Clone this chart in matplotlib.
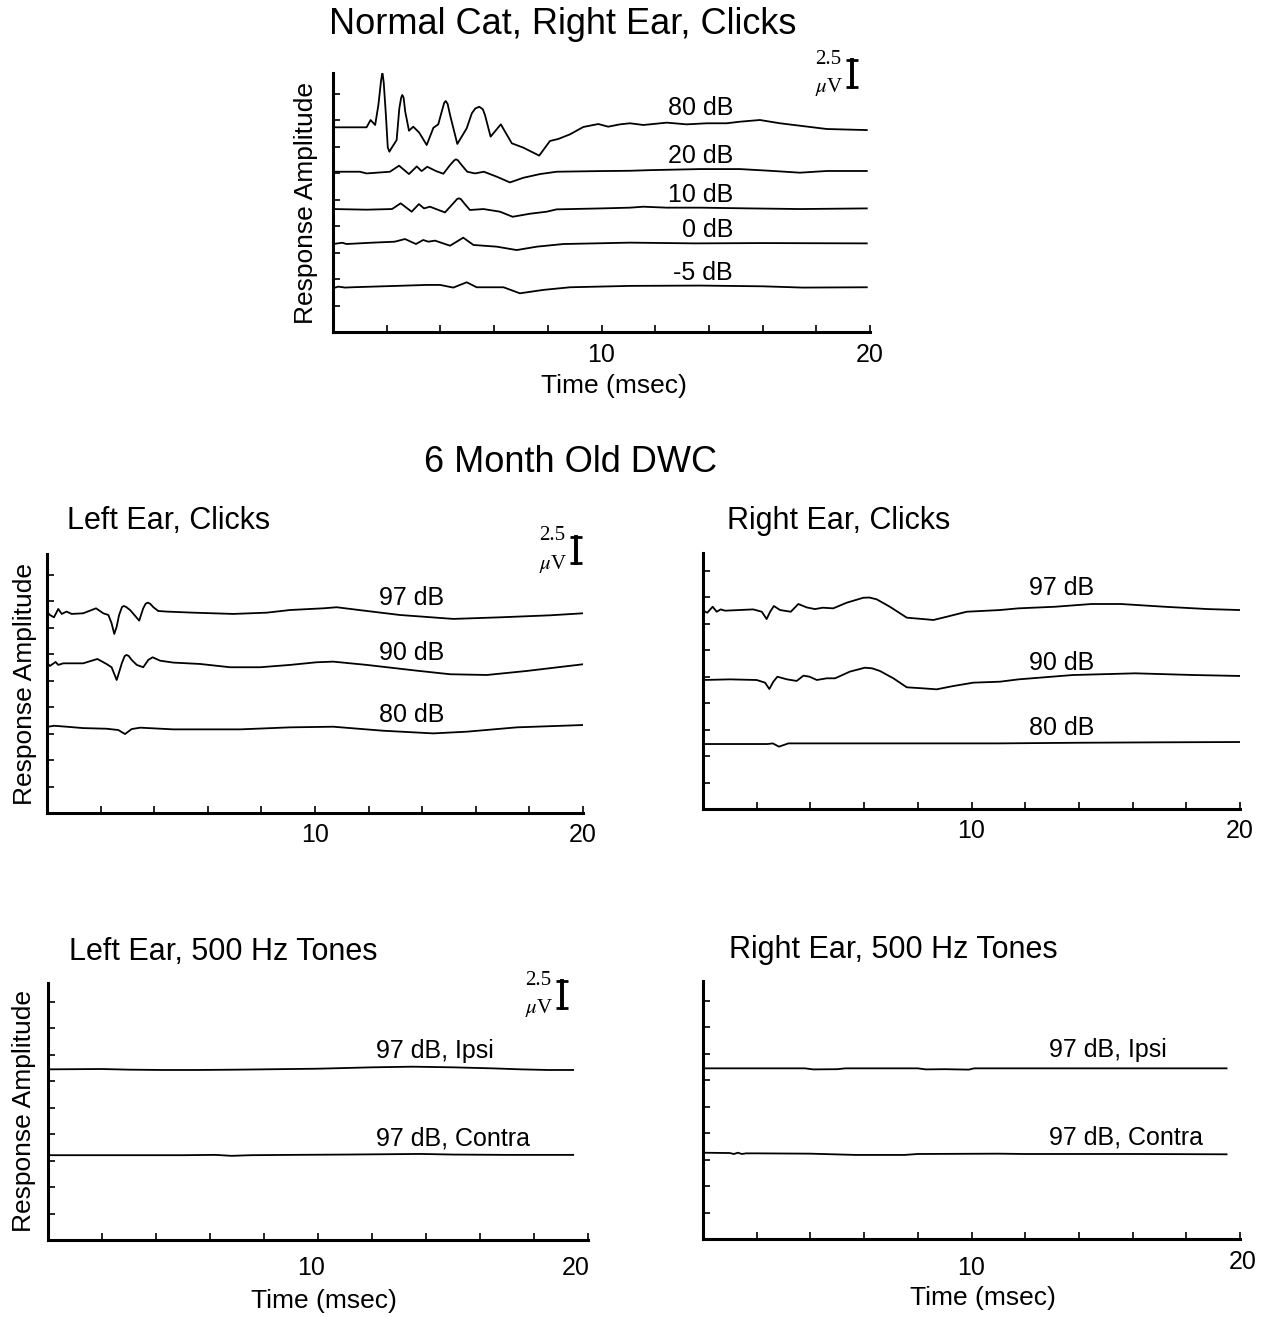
import numpy as np
import matplotlib.pyplot as plt

plt.rcParams['font.family'] = ['Liberation Sans', 'DejaVu Sans']
plt.rcParams['mathtext.fontset'] = 'stix'

# --- Normal cat, right ear, clicks (time in msec, amplitude in uV re. trace baseline)
top_t_80 = [0.0, 1.25, 1.40, 1.57, 1.69, 1.79, 1.84, 1.89, 1.97, 2.04, 2.10, 2.17, 2.37, 2.47, 2.54,
            2.58, 2.63, 2.69, 2.83, 2.99, 3.21, 3.49, 3.74, 3.92, 4.05, 4.14, 4.20, 4.27, 4.36, 4.63,
            4.98, 5.17, 5.30, 5.45, 5.58, 5.66, 5.87, 6.25, 6.66, 7.09, 7.68, 8.08, 8.39, 8.83, 9.32,
            9.88, 10.25, 10.69, 11.06, 11.56, 12.43, 13.17, 13.92, 14.66, 15.16, 15.90, 16.65,
            17.39, 18.39, 19.88]
top_v_80 = [0.0, 0.0, 0.69, 0.22, 2.1, 4.4, 5.2, 4.2, 1.16, -1.9, -2.3, -2.0, -1.2, 1.79, 2.8,
            3.05, 2.8, 1.48, -0.32, 0.06, -0.5, -1.67, -0.04, 0.28, 1.48, 2.3, 2.48, 2.2, 1.16, -1.57,
            -0.09, 1.32, 1.78, 1.94, 1.7, 1.16, -0.88, 0.28, -1.51, -1.92, -2.67, -1.29, -1.1, -0.66,
            0.03, 0.31, 0.06, 0.28, 0.38, 0.22, 0.44, 0.28, 0.38, 0.38, 0.53, 0.69, 0.38, 0.15,
            -0.16, -0.26]
top_t_20 = [0.0, 1.0, 1.25, 2.12, 2.46, 2.83, 3.12, 3.30, 3.51, 3.84, 4.11, 4.36, 4.52, 4.58, 4.65,
            4.79, 5.00, 5.29, 5.62, 6.10, 6.59, 7.09, 7.71, 8.33, 9.90, 11.06, 11.81, 13.67, 15.16,
            16.40, 17.39, 18.39, 19.88]
top_v_20 = [0.0, 0.0, -0.16, 0.0, 0.57, -0.22, 0.50, 0.06, 0.47, 0.06, -0.19, 0.63, 1.08, 1.17, 1.08,
            0.63, 0.0, -0.16, 0.0, -0.47, -1.01, -0.57, -0.22, 0.0, 0.06, 0.09, 0.15, 0.25, 0.25,
            0.07, -0.09, 0.07, 0.07]
top_t_10 = [0.0, 1.25, 2.20, 2.52, 2.93, 3.20, 3.39, 3.61, 4.17, 4.48, 4.62, 4.69, 4.76, 4.92, 5.10,
            5.60, 6.22, 6.69, 7.34, 7.96, 8.33, 10.0, 11.06, 11.56, 12.43, 13.67, 15.53, 17.4, 19.88]
top_v_10 = [0.0, -0.06, 0.0, 0.54, -0.25, 0.47, 0.06, 0.22, -0.32, 0.54, 0.94, 1.01, 0.94, 0.44,
            -0.09, 0.0, -0.25, -0.73, -0.44, -0.25, -0.03, 0.06, 0.13, 0.22, 0.13, 0.13, 0.06, 0.0,
            0.06]
top_t_0 = [0.0, 0.35, 0.5, 1.4, 2.3, 2.68, 3.09, 3.36, 3.55, 3.80, 4.36, 4.85, 5.23, 6.10, 6.84,
           7.59, 8.58, 11.06, 13.5, 16.0, 19.88]
top_v_0 = [0.0, 0.12, 0.0, 0.12, 0.22, 0.47, 0.0, 0.38, 0.22, 0.32, -0.16, 0.60, -0.09, -0.25, -0.57,
           -0.25, 0.0, 0.13, 0.06, 0.09, 0.06]
top_t_m5 = [0.0, 0.2, 0.45, 0.7, 2.74, 3.49, 3.99, 4.48, 4.98, 5.35, 6.35, 6.96, 7.83, 8.83, 11.06,
            13.67, 16.0, 17.5, 19.88]
top_v_m5 = [-0.09, 0.06, -0.03, 0.0, 0.16, 0.22, 0.22, -0.03, 0.47, 0.0, 0.0, -0.57, -0.25, 0.0, 0.13,
            0.16, 0.09, -0.03, 0.0]
top_labels = ['80 dB', '20 dB', '10 dB', '0 dB', '-5 dB']
top_base = [19.31, 15.12, 11.6, 8.3, 4.22]

# --- 6 month old DWC, left ear, clicks
ml_t_97 = [0.05, 0.11, 0.26, 0.42, 0.55, 0.73, 0.92, 1.35, 1.83, 2.10, 2.29, 2.41, 2.51, 2.60, 2.69,
           2.80, 2.87, 2.95, 3.10, 3.44, 3.59, 3.68, 3.76, 3.85, 3.97, 4.15, 4.47, 5.46, 6.95, 8.20,
           9.07, 10.31, 10.81, 11.93, 13.17, 15.16, 16.90, 18.77, 20.0]
ml_v_97 = [0.0, -0.16, -0.38, 0.41, -0.06, 0.16, -0.06, 0.0, 0.47, 0.0, -0.16, -0.94, -1.95, -1.26,
           -0.16, 0.6, 0.69, 0.6, 0.31, -0.69, 0.47, 0.9, 1.01, 0.9, 0.57, 0.22, 0.16, 0.06, -0.06,
           0.06, 0.31, 0.47, 0.57, 0.22, -0.16, -0.53, -0.38, -0.19, 0.0]
ml_t_90 = [0.05, 0.11, 0.32, 0.42, 0.61, 1.35, 1.88, 2.22, 2.41, 2.60, 2.70, 2.79, 2.90, 2.97, 3.05,
           3.16, 3.35, 3.59, 3.78, 3.94, 4.22, 4.71, 5.71, 6.83, 7.95, 9.07, 10.06, 10.68, 11.93,
           13.79, 15.04, 16.41, 17.90, 20.0]
ml_v_90 = [0.0, -0.19, 0.19, -0.09, 0.06, 0.06, 0.47, 0.0, -0.31, -1.51, -0.7, 0.06, 0.75, 0.85, 0.75,
           0.38, -0.09, -0.31, 0.38, 0.63, 0.31, 0.13, 0.0, -0.31, -0.31, -0.09, 0.16, 0.22, -0.09,
           -0.63, -0.97, -1.04, -0.66, -0.03]
ml_t_80 = [0.05, 0.26, 0.73, 1.35, 2.22, 2.66, 2.91, 3.16, 3.48, 4.71, 7.20, 9.07, 10.68, 12.55,
           14.41, 15.66, 17.53, 20.0]
ml_v_80 = [0.0, 0.09, 0.0, -0.13, -0.19, -0.31, -0.69, -0.22, -0.09, -0.25, -0.25, -0.06, 0.0, -0.38,
           -0.63, -0.47, -0.06, 0.16]
ml_base = [18.84, 14.06, 8.14]

# --- 6 month old DWC, right ear, clicks
mr_t_97 = [0.0, 0.16, 0.36, 0.51, 0.66, 0.82, 1.87, 2.19, 2.37, 2.50, 2.64, 2.87, 3.27, 3.55, 3.86,
           4.17, 4.46, 4.85, 5.35, 5.97, 6.2, 6.47, 6.96, 7.59, 8.33, 8.58, 9.08, 9.82, 11.06, 11.75,
           13.11, 14.47, 15.56, 17.19, 18.81, 20.0]
mr_v_97 = [-0.06, -0.25, 0.31, -0.16, 0.06, -0.06, 0.06, -0.16, -0.85, -0.16, 0.38, 0.0, -0.16, 0.57,
           0.25, 0.09, 0.22, 0.16, 0.69, 1.16, 1.18, 1.01, 0.31, -0.72, -0.88, -0.94, -0.63, -0.16,
           0.0, 0.16, 0.31, 0.57, 0.57, 0.31, 0.09, 0.0]
mr_t_90 = [0.0, 1.0, 2.0, 2.31, 2.47, 2.62, 2.77, 3.13, 3.49, 3.74, 3.97, 4.24, 4.61, 4.92, 5.47,
           6.03, 6.3, 6.59, 7.09, 7.59, 8.21, 8.70, 9.32, 10.07, 11.06, 11.75, 13.78, 16.10, 18.27,
           20.0]
mr_v_90 = [0.0, 0.06, 0.0, -0.25, -0.85, -0.16, 0.31, 0.06, -0.09, 0.41, 0.31, 0.0, 0.16, 0.16, 0.79,
           1.16, 1.1, 0.85, 0.16, -0.69, -0.79, -0.88, -0.57, -0.25, -0.16, 0.06, 0.47, 0.63, 0.47,
           0.38]
mr_t_80 = [0.0, 2.4, 2.6, 2.83, 3.18, 6.0, 11.0, 14.0, 17.0, 20.0]
mr_v_80 = [0.0, 0.0, 0.06, -0.25, 0.06, 0.06, 0.06, 0.12, 0.16, 0.19]
mr_base = [18.77, 12.17, 6.13]
click_labels = ['97 dB', '90 dB', '80 dB']

# --- 6 month old DWC, 500 Hz tones
bl_t_ipsi = [0.0, 2.0, 3.0, 4.2, 5.5, 7.0, 8.0, 10.0, 12.0, 13.5, 15.0, 16.5, 17.5, 18.5, 19.45]
bl_v_ipsi = [0.0, 0.03, -0.03, -0.06, -0.06, -0.03, 0.0, 0.06, 0.19, 0.25, 0.19, 0.09, 0.0, -0.06, -0.06]
bl_t_con = [0.0, 3.0, 5.0, 6.2, 6.8, 7.5, 9.0, 11.0, 12.5, 13.8, 15.0, 17.0, 19.45]
bl_v_con = [0.0, 0.0, 0.0, 0.03, -0.06, 0.0, 0.03, 0.06, 0.09, 0.12, 0.06, 0.03, 0.03]
bl_base = [16.1, 8.0]
br_t_ipsi = [0.0, 3.8, 4.1, 5.0, 5.3, 8.0, 8.3, 9.0, 9.9, 10.1, 10.4, 13.0, 16.0, 19.5]
br_v_ipsi = [0.0, 0.0, -0.1, -0.08, 0.0, 0.0, -0.1, -0.08, -0.12, 0.0, 0.0, 0.0, 0.0, 0.0]
br_t_con = [0.0, 1.0, 1.15, 1.3, 1.45, 1.6, 2.0, 4.0, 5.7, 7.5, 8.0, 11.0, 12.0, 16.0, 19.5]
br_v_con = [0.06, 0.03, -0.06, 0.06, -0.06, 0.0, 0.0, -0.03, -0.15, -0.15, -0.06, -0.03, -0.06, -0.06, -0.09]
br_base = [16.1, 8.08]
tone_labels = ['97 dB, Ipsi', '97 dB, Contra']

W, H = 1266, 1317
PX_UV = 10.6  # pixels per microvolt in every panel

fig = plt.figure(figsize=(W / 100, H / 100), dpi=100)


def make_axes(x0, x1, ybot, ytop, ylabel=True, xlabel=True, tpad=6, xpad=6, ticklabels=True):
    ax = fig.add_axes([x0 / W, 1 - ybot / H, (x1 - x0) / W, (ybot - ytop) / H])
    top = (ybot - ytop) / PX_UV
    ax.set_xlim(0, 20)
    ax.set_ylim(0, top)
    for s in ['top', 'right']:
        ax.spines[s].set_visible(False)
    for s in ['left', 'bottom']:
        ax.spines[s].set_linewidth(2.2)
    ax.set_xticks([10, 20])
    ax.set_xticks(np.arange(2, 20, 2), minor=True)
    if not ticklabels:
        ax.set_xticklabels(['', ''])
    ax.set_yticks(np.arange(2.5, top, 2.5))
    ax.set_yticklabels([])
    ax.tick_params(which='both', direction='in', length=5, width=1.2, labelsize=18, pad=tpad)
    if ylabel:
        ax.set_ylabel('Response Amplitude', fontsize=19, labelpad=3)
    if xlabel:
        ax.set_xlabel('Time (msec)', fontsize=19, labelpad=xpad)
    return ax


def scale_bar(ax, x, y0):
    ax.plot([x, x], [y0, y0 + 2.5], color='black', lw=2.8, marker='_', ms=8, mew=2,
            clip_on=False)
    ax.text(x - 0.9, y0 + 2.6, '2.5', ha='center', va='center', fontsize=15,
            family='Liberation Serif', clip_on=False)
    ax.text(x - 0.85, y0 - 0.05, r'$\mu$V', ha='center', va='center', fontsize=15,
            family='Liberation Serif', clip_on=False)


def tick_text(ax, x, label, drop):
    # tick label drawn by hand where the original sits off its tick
    ax.annotate(label, xy=(x, 0), xycoords=('data', 'axes fraction'),
                xytext=(0, -drop), textcoords='offset pixels',
                ha='center', va='center', fontsize=18)


def trace(ax, t, v, base):
    ax.plot(t, base + np.array(v), color='black', lw=1.3)


# top panel
ax = make_axes(333, 870, 332, 73, tpad=8, xpad=5)
ax.xaxis.label.set_x(0.523)
top_series = [(top_t_80, top_v_80), (top_t_20, top_v_20), (top_t_10, top_v_10),
              (top_t_0, top_v_0), (top_t_m5, top_v_m5)]
lab_off = [1.16, 0.8, 0.64, 0.69, 0.69]
for (t, v), b, lab, off in zip(top_series, top_base, top_labels, lab_off):
    trace(ax, t, v, b)
    ax.text(14.9, b + off, lab, ha='right', va='baseline', fontsize=18)
scale_bar(ax, 19.33, 23.14)

# middle left
ax = make_axes(47, 583, 813, 554, xlabel=False, tpad=7.5)
ax.yaxis.labelpad = 0
for (t, v), b, lab, ly in zip([(ml_t_97, ml_v_97), (ml_t_90, ml_v_90), (ml_t_80, ml_v_80)],
                              ml_base, click_labels, [19.62, 14.43, 8.61]):
    trace(ax, t, v, b)
    ax.text(14.81, ly, lab, ha='right', va='baseline', fontsize=18)
scale_bar(ax, 19.74, 23.58)

# middle right
ax = make_axes(703, 1240, 809, 553, ylabel=False, xlabel=False, tpad=7.5)
for (t, v), b, lab, ly in zip([(mr_t_97, mr_v_97), (mr_t_90, mr_v_90), (mr_t_80, mr_v_80)],
                              mr_base, click_labels, [20.19, 13.11, 6.98]):
    trace(ax, t, v, b)
    ax.text(14.56, ly, lab, ha='right', va='baseline', fontsize=18)

# bottom left
ax = make_axes(48, 588, 1240, 983, xlabel=False, ticklabels=False)
for (t, v), b, lab, ly in zip([(bl_t_ipsi, bl_v_ipsi), (bl_t_con, bl_v_con)],
                              bl_base, tone_labels, [17.14, 8.96]):
    trace(ax, t, v, b)
    ax.text(12.15, ly, lab, ha='left', va='baseline', fontsize=18)
scale_bar(ax, 19.04, 21.89)
tick_text(ax, 9.75, '10', 28)
tick_text(ax, 19.55, '20', 28)

# bottom right
ax = make_axes(703, 1240, 1239, 981, ylabel=False, xlabel=False, ticklabels=False)
for (t, v), b, lab, ly in zip([(br_t_ipsi, br_v_ipsi), (br_t_con, br_v_con)],
                              br_base, tone_labels, [17.2, 8.87]):
    trace(ax, t, v, b)
    ax.text(12.9, ly, lab, ha='left', va='baseline', fontsize=18)
tick_text(ax, 10.0, '10', 29)
tick_text(ax, 20.1, '20', 23)

# headings
fig.text(563 / W, 1 - 25 / H, 'Normal Cat, Right Ear, Clicks', ha='center', va='center', fontsize=26)
fig.text(571 / W, 1 - 462 / H, '6 Month Old DWC', ha='center', va='center', fontsize=26)
fig.text(67 / W, 1 - 521 / H, 'Left Ear, Clicks', ha='left', va='center', fontsize=22)
fig.text(727 / W, 1 - 521 / H, 'Right Ear, Clicks', ha='left', va='center', fontsize=22)
fig.text(69 / W, 1 - 952 / H, 'Left Ear, 500 Hz Tones', ha='left', va='center', fontsize=22)
fig.text(729 / W, 1 - 950 / H, 'Right Ear, 500 Hz Tones', ha='left', va='center', fontsize=22)
fig.text(324 / W, 1 - 1301 / H, 'Time (msec)', ha='center', va='center', fontsize=19)
fig.text(983 / W, 1 - 1298 / H, 'Time (msec)', ha='center', va='center', fontsize=19)

fig.savefig('out.png', dpi=100, facecolor='white')
